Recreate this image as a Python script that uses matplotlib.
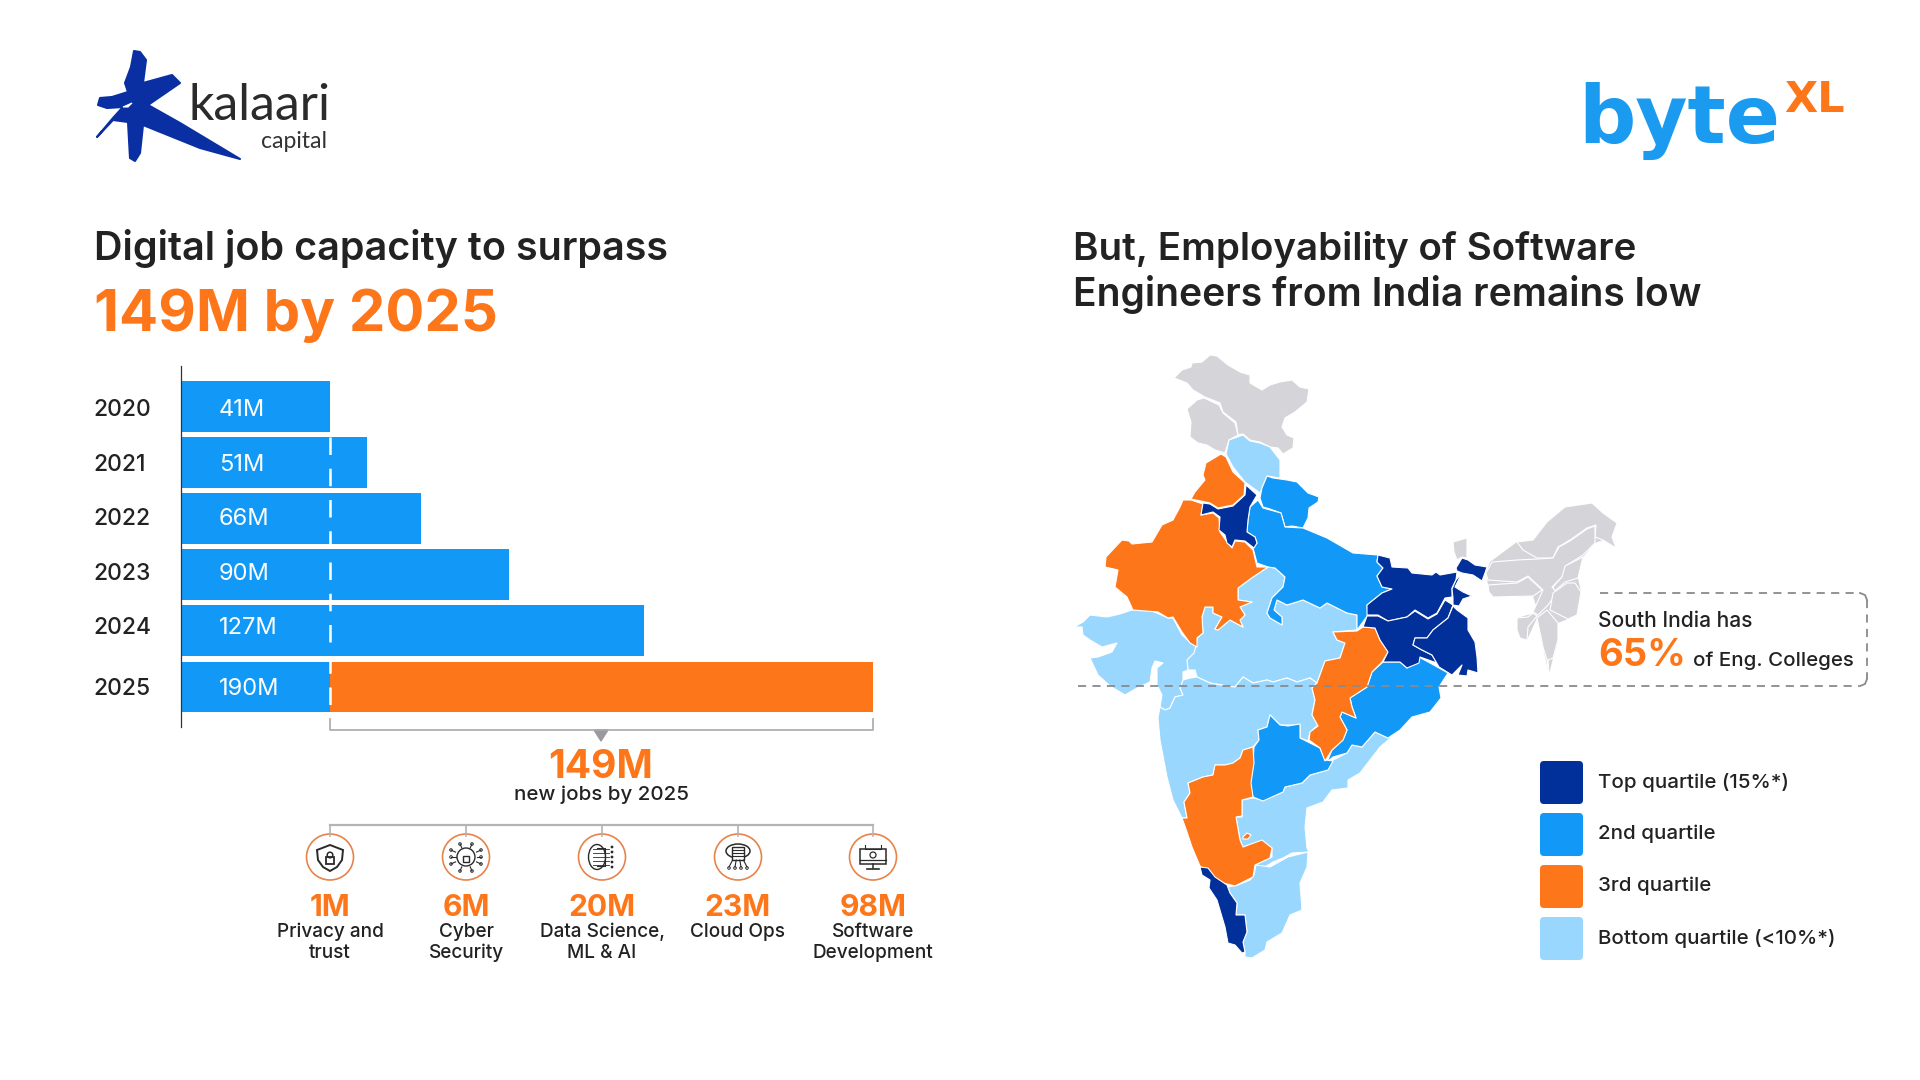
import matplotlib
matplotlib.use('Agg')
import matplotlib.pyplot as plt
from matplotlib.patches import Polygon, FancyBboxPatch, Ellipse, Rectangle, Circle

plt.rcParams['font.family'] = ['Inter', 'DejaVu Sans']

DARK = '#02309a'
BLUE = '#1299f7'
ORANGE = '#fd761a'
LIGHT = '#9ad7ff'
GRAY = '#d5d4d8'
INK = '#222222'

# bar data, millions of jobs
years = ['2020', '2021', '2022', '2023', '2024', '2025']
bar_labels = ['41M', '51M', '66M', '90M', '127M', '190M']
blue_part = [41, 51, 66, 90, 127, 41]
orange_part = [0, 0, 0, 0, 0, 149]
# the labels do not sit quite on the bar centres in the picture
label_rows = [0.05, 1.03, 1.99, 2.96, 3.93, 5.01]
year_rows = [0.03, 1.01, 1.97, 2.95, 3.91, 4.99]

# the 149M split
split_values = ['1M', '6M', '20M', '23M', '98M']
split_names = ['Privacy and\ntrust', 'Cyber\nSecurity', 'Data Science,\nML & AI', 'Cloud Ops', 'Software\nDevelopment']
split_x = [330, 466, 602, 738, 873]

legend_names = ['Top quartile (15%*)', '2nd quartile', '3rd quartile', 'Bottom quartile (<10%*)']
legend_colors = [DARK, BLUE, ORANGE, LIGHT]
legend_y = [761, 813, 865, 917]

# map outlines
ladakh = [(1174,378),(1182,370),(1191,367),(1192,363),(1202,362),(1210,355),(1217,356),(1228,365),(1240,372),(1250,375),(1250,383),(1262,390),(1270,385),(1280,382),(1292,380),(1300,387),(1309,389),(1307,402),(1295,412),(1285,418),(1282,427),(1287,435),(1294,438),(1293,448),(1283,454),(1278,448),(1270,447),(1260,442),(1250,440),(1243,434),(1238,435),(1236,422),(1223,412),(1220,403),(1205,397),(1193,390),(1187,383)]
kashmir = [(1187,409),(1197,400),(1204,398),(1219,405),(1223,413),(1235,423),(1238,435),(1229,440),(1225,453),(1215,450),(1207,445),(1198,443),(1190,437),(1191,422)]
himachal = [(1229,440),(1243,435),(1250,441),(1260,443),(1270,447),(1280,460),(1280,478),(1267,476),(1260,493),(1245,482),(1233,467),(1226,454)]
uttarakhand = [(1267,476),(1273,478),(1287,480),(1297,482),(1308,493),(1319,497),(1318,502),(1309,508),(1308,518),(1303,528),(1292,526),(1285,527),(1281,513),(1270,509),(1263,507),(1260,498),(1262,488)]
punjab = [(1221,454),(1226,457),(1233,472),(1245,483),(1244,495),(1233,505),(1218,508),(1210,503),(1191,499),(1195,492),(1205,480),(1203,475),(1206,463)]
haryana = [(1246,485),(1257,495),(1250,507),(1248,520),(1247,532),(1255,537),(1257,543),(1254,548),(1245,541),(1235,540),(1232,547),(1227,543),(1225,535),(1219,530),(1220,517),(1213,512),(1201,515),(1203,503),(1210,504),(1218,509),(1233,506),(1245,495)]
rajasthan = [(1183,500),(1191,500),(1203,504),(1201,515),(1213,513),(1219,518),(1220,532),(1227,542),(1232,548),(1235,541),(1245,542),(1253,550),(1257,567),(1268,567),(1253,577),(1238,588),(1238,600),(1252,602),(1240,607),(1245,615),(1240,620),(1243,627),(1230,620),(1218,630),(1215,629),(1222,617),(1213,613),(1213,607),(1205,607),(1202,617),(1203,633),(1197,638),(1197,647),(1190,643),(1182,632),(1173,617),(1168,618),(1158,612),(1133,610),(1127,597),(1115,587),(1118,570),(1105,567),(1106,557),(1122,540),(1129,541),(1132,544),(1152,542),(1162,525),(1173,520),(1180,507)]
uttar_pradesh = [(1258,500),(1263,508),(1281,513),(1285,527),(1303,528),(1327,538),(1353,553),(1378,555),(1377,562),(1383,568),(1377,576),(1382,587),(1392,589),(1382,593),(1367,605),(1368,615),(1357,630),(1357,615),(1347,613),(1327,603),(1320,608),(1303,600),(1287,605),(1277,600),(1274,610),(1282,617),(1282,625),(1270,618),(1267,613),(1272,598),(1283,587),(1285,577),(1275,568),(1268,567),(1257,563),(1253,548),(1257,543),(1255,537),(1247,532),(1248,520),(1250,507)]
madhya_pradesh = [(1268,567),(1275,568),(1285,577),(1283,587),(1272,598),(1267,613),(1270,618),(1282,625),(1282,617),(1274,610),(1277,600),(1287,605),(1303,600),(1320,608),(1327,603),(1347,613),(1357,615),(1357,630),(1333,632),(1337,640),(1345,643),(1340,658),(1325,661),(1317,683),(1310,678),(1297,682),(1287,678),(1273,682),(1267,680),(1253,683),(1243,677),(1235,687),(1227,686),(1210,683),(1197,677),(1195,670),(1188,670),(1187,660),(1194,648),(1196,645),(1197,638),(1203,633),(1202,617),(1205,607),(1213,607),(1213,613),(1222,617),(1215,629),(1218,630),(1230,620),(1243,627),(1240,620),(1245,615),(1240,607),(1252,602),(1238,600),(1238,588),(1253,577)]
gujarat = [(1074,627),(1083,622),(1090,615),(1107,617),(1120,614),(1132,610),(1150,610),(1168,618),(1173,618),(1182,635),(1190,642),(1196,646),(1194,653),(1187,660),(1188,670),(1183,672),(1183,680),(1190,678),(1180,688),(1183,695),(1175,697),(1170,708),(1165,710),(1160,707),(1162,695),(1157,685),(1157,668),(1163,663),(1155,661),(1152,668),(1150,682),(1137,688),(1125,695),(1110,686),(1098,675),(1090,658),(1098,657),(1112,652),(1117,643),(1102,647),(1090,640),(1083,635),(1082,627)]
maharashtra = [(1183,680),(1190,678),(1197,677),(1210,683),(1227,686),(1235,687),(1243,677),(1253,683),(1267,680),(1273,682),(1287,678),(1297,682),(1310,678),(1317,683),(1312,688),(1315,700),(1312,715),(1318,725),(1310,732),(1308,741),(1300,738),(1300,725),(1288,725),(1280,725),(1270,715),(1267,727),(1258,730),(1259,740),(1253,747),(1243,750),(1240,758),(1233,763),(1225,765),(1215,765),(1213,775),(1203,777),(1188,783),(1190,793),(1184,802),(1187,818),(1182,818),(1173,800),(1167,777),(1160,740),(1158,718),(1160,707),(1165,710),(1170,708),(1175,697),(1183,695),(1180,688)]
chhattisgarh = [(1333,632),(1357,631),(1363,627),(1375,628),(1380,640),(1388,652),(1382,662),(1372,672),(1367,687),(1350,698),(1352,707),(1356,718),(1342,712),(1340,717),(1347,730),(1343,740),(1332,750),(1325,761),(1320,748),(1309,740),(1310,732),(1318,726),(1312,715),(1315,700),(1312,688),(1317,683),(1325,661),(1340,658),(1345,643),(1337,640)]
odisha = [(1383,662),(1400,662),(1407,668),(1419,657),(1430,663),(1448,673),(1439,687),(1441,698),(1430,712),(1412,717),(1400,730),(1388,738),(1375,732),(1362,747),(1352,745),(1347,753),(1333,757),(1327,762),(1332,750),(1343,740),(1347,730),(1340,717),(1342,712),(1356,718),(1352,707),(1350,698),(1367,687),(1372,672)]
andhra = [(1399,731),(1380,747),(1360,773),(1348,780),(1348,788),(1332,790),(1323,802),(1307,808),(1305,827),(1307,848),(1309,852),(1292,853),(1283,858),(1273,862),(1265,867),(1255,865),(1272,857),(1272,848),(1262,841),(1243,847),(1240,840),(1236,817),(1242,817),(1242,800),(1253,798),(1263,800),(1283,792),(1285,787),(1302,783),(1310,775),(1327,770),(1333,760),(1347,753),(1352,745),(1362,747),(1375,732),(1388,738)]
telangana = [(1270,715),(1280,725),(1288,726),(1300,724),(1300,738),(1308,742),(1320,748),(1325,760),(1333,761),(1328,770),(1310,775),(1302,783),(1285,787),(1283,792),(1263,801),(1253,797),(1250,783),(1253,763),(1254,747),(1259,740),(1258,730),(1267,727)]
karnataka = [(1253,747),(1254,763),(1251,783),(1253,797),(1242,800),(1242,816),(1236,817),(1240,840),(1243,847),(1262,840),(1272,848),(1270,858),(1255,865),(1253,877),(1235,886),(1223,883),(1210,875),(1200,866),(1192,847),(1187,832),(1182,818),(1187,818),(1184,802),(1190,793),(1188,783),(1203,777),(1213,775),(1215,765),(1225,765),(1233,763),(1240,758),(1243,750)]
goa_spot = [(1243,837),(1247,833),(1251,835),(1248,839),(1243,839)]
kerala = [(1200,867),(1208,868),(1215,877),(1227,885),(1230,893),(1237,903),(1236,915),(1245,915),(1247,932),(1243,942),(1245,952),(1242,953),(1235,945),(1228,943),(1225,927),(1217,900),(1209,888),(1210,880),(1202,875)]
tamil_nadu = [(1228,887),(1238,885),(1250,880),(1254,875),(1256,865),(1270,867),(1288,857),(1308,852),(1307,867),(1300,883),(1302,910),(1290,915),(1282,933),(1267,942),(1265,950),(1252,958),(1245,957),(1245,952),(1243,942),(1247,932),(1245,915),(1236,915),(1237,903),(1230,893)]
bihar = [(1378,555),(1390,558),(1392,567),(1408,568),(1412,573),(1432,575),(1436,572),(1440,575),(1457,572),(1456,580),(1452,588),(1452,597),(1445,598),(1437,613),(1428,618),(1415,610),(1407,617),(1388,621),(1378,615),(1367,615),(1367,605),(1382,593),(1392,589),(1382,587),(1377,576),(1383,568),(1377,562)]
jharkhand = [(1378,616),(1388,621),(1407,617),(1415,611),(1428,619),(1437,614),(1445,600),(1453,605),(1448,618),(1433,630),(1427,638),(1415,638),(1413,645),(1422,650),(1432,655),(1437,663),(1420,657),(1419,663),(1407,668),(1400,662),(1383,662),(1388,652),(1380,640),(1375,628),(1363,627),(1367,616)]
bengal_south = [(1453,606),(1457,610),(1468,618),(1468,630),(1475,642),(1477,657),(1478,673),(1468,670),(1467,676),(1458,675),(1462,665),(1452,675),(1439,667),(1432,655),(1422,650),(1413,645),(1415,638),(1427,638),(1433,630),(1448,618)]
bengal_mid = [(1462,573),(1455,587),(1463,592),(1472,596),(1463,599),(1459,606),(1453,605),(1453,598),(1452,589),(1456,580)]
bengal_north = [(1456,568),(1462,558),(1468,560),(1475,565),(1487,567),(1485,573),(1482,581),(1473,575),(1462,573),(1457,571)]
sikkim = [(1453,542),(1467,538),(1467,558),(1462,557),(1457,560),(1454,552)]
arunachal = [(1517,542),(1533,540),(1547,522),(1565,507),(1592,503),(1603,513),(1617,523),(1612,537),(1616,548),(1603,540),(1595,537),(1596,525),(1587,528),(1570,540),(1558,547),(1553,558),(1537,558),(1523,550)]
assam = [(1492,562),(1517,560),(1537,559),(1553,558),(1559,547),(1570,541),(1587,529),(1595,526),(1595,543),(1583,555),(1567,565),(1562,577),(1552,587),(1557,592),(1548,605),(1538,615),(1533,612),(1543,590),(1528,576),(1517,582),(1488,580),(1486,573)]
meghalaya = [(1488,585),(1517,583),(1528,577),(1542,590),(1533,596),(1493,597),(1489,592)]
nagaland = [(1565,566),(1583,557),(1578,578),(1565,582),(1555,591),(1553,587),(1562,577)]
manipur = [(1553,593),(1567,583),(1575,583),(1581,592),(1577,615),(1568,619),(1550,610)]
mizoram = [(1537,618),(1547,610),(1558,623),(1558,640),(1553,658),(1548,660),(1549,675),(1547,660),(1543,647)]
tripura = [(1517,618),(1528,617),(1533,613),(1537,616),(1528,627),(1527,640),(1520,638),(1517,630)]
# gray block behind the north east, closes the slivers between the states
northeast_back = [(1490,562),(1517,542),(1533,540),(1547,522),(1565,507),(1592,503),(1603,513),(1617,523),(1612,537),(1616,548),(1603,540),(1595,543),(1583,557),(1578,578),(1581,592),(1577,615),(1568,619),(1558,623),(1558,640),(1553,658),(1549,675),(1543,647),(1537,618),(1527,640),(1520,638),(1517,630),(1517,618),(1538,612),(1533,596),(1493,597),(1488,585),(1486,573)]

gray_states = [ladakh, kashmir, sikkim, arunachal, assam, meghalaya, nagaland, manipur, mizoram, tripura]
top_states = [haryana, kerala, bihar, jharkhand, bengal_south, bengal_mid, bengal_north]
second_states = [uttarakhand, uttar_pradesh, odisha, telangana]
third_states = [punjab, rajasthan, chhattisgarh, karnataka, goa_spot]
bottom_states = [himachal, madhya_pradesh, gujarat, maharashtra, andhra, tamil_nadu]

# logo outline
kalaari_star = [(134,51),(140,52),(146,60),(143,83),(172,75),(180,83),(148,105),(180,123),(240,159),(200,148),(143,125),(140,153),(135,161),(130,158),(128,122),(113,120),(97,137),(113,118),(123,107),(107,108),(98,105),(100,98),(112,97),(128,92),(125,83),(131,67)]
kalaari_slit = [(123,107),(132,103),(128,107)]

fig = plt.figure(figsize=(19.2, 10.8), dpi=100)
page = fig.add_axes([0, 0, 1, 1])
page.set_xlim(0, 1920)
page.set_ylim(1080, 0)
page.axis('off')


def ptext(x, y, s, size, color=INK, weight='normal', ha='left', va='center', **kw):
    # size comes in pixels of the 1920 wide picture
    return page.text(x, y, s, fontsize=size * 0.72, color=color, fontweight=weight, ha=ha, va=va, **kw)


# bars
ax = fig.add_axes([181 / 1920, 1 - 727 / 1080, 692 / 1920, 361 / 1080])
ax.patch.set_alpha(0)
y_pos = list(range(len(years)))
ax.barh(y_pos, blue_part, height=0.9, color=BLUE)
ax.barh(y_pos, orange_part, left=blue_part, height=0.9, color=ORANGE)
ax.set_xlim(0, 190)
ax.set_ylim(5.717, -0.718)
ax.plot([41, 41], [0.55, 5.45], color='white', lw=1.8, dashes=(7, 5.5))
for row, lab in zip(label_rows, bar_labels):
    ax.text(10.4, row + 0.025, lab, color='white', fontsize=17, va='center', ha='left')
for s in ['top', 'right', 'bottom']:
    ax.spines[s].set_visible(False)
ax.spines['left'].set_color('#333333')
ax.spines['left'].set_linewidth(0.9)
ax.set_xticks([])
ax.set_yticks(year_rows)
ax.set_yticklabels(years, fontsize=16.5, color=INK, fontweight='medium', ha='left')
ax.tick_params(axis='y', length=0, pad=63)

# headings
ptext(94, 249, 'Digital job capacity to surpass', 39.5, weight='semibold')
ptext(94, 316, '149M by 2025', 58, color=ORANGE, weight='bold')
ptext(1073, 249, 'But, Employability of Software', 38.5, weight='semibold')
ptext(1073, 295, 'Engineers from India remains low', 39, weight='semibold')

# bracket under the new jobs
page.plot([330, 330, 873, 873], [719, 730, 730, 719], color='#a9a9ad', lw=1.2)
page.add_patch(Polygon([(594, 730), (608, 730), (601, 741)], color='#9a9a9e'))
ptext(601, 767, '149M', 39, color=ORANGE, weight='bold', ha='center')
ptext(601, 795, 'new jobs by 2025', 20.5, ha='center', weight='medium')

# tree with the split
page.plot([330, 873], [825, 825], color='#b4b4b8', lw=1.6)
for i, x in enumerate(split_x):
    page.plot([x, x], [825, 836], color='#b4b4b8', lw=1.2)
    page.add_patch(Ellipse((x, 857), 47, 46, fc='white', ec='#e8834a', lw=1.2))
    ptext(x, 908, split_values[i], 30, color=ORANGE, weight='bold', ha='center')
    ptext(x, 932, split_names[i].split('\n')[0], 19, ha='center', weight='medium')
    if '\n' in split_names[i]:
        ptext(x, 953, split_names[i].split('\n')[1], 19, ha='center', weight='medium')

# icons
ic = '#2a2a2a'
cx = split_x[0]
page.add_patch(Polygon([(cx, 845), (cx + 13, 850), (cx + 12, 860), (cx + 7, 867), (cx, 871), (cx - 7, 867), (cx - 12, 860), (cx - 13, 850)], fc='none', ec=ic, lw=1.4))
page.add_patch(Rectangle((cx - 4, 857), 8, 7, fc='none', ec=ic, lw=1.3))
page.add_patch(Circle((cx, 855), 2.8, fc='none', ec=ic, lw=1.1))
cx = split_x[1]
page.add_patch(Circle((cx, 857), 9, fc='none', ec=ic, lw=1))
page.add_patch(Rectangle((cx - 3, 856), 6, 6, fc='none', ec=ic, lw=1))
for dx, dy in [(-15, -7), (-15, 0), (-15, 7), (15, -7), (15, 0), (15, 7), (-6, -13), (6, -13), (-6, 14), (6, 14)]:
    page.plot([cx + dx * 0.7, cx + dx], [857 + dy * 0.7, 857 + dy], color=ic, lw=0.8)
    page.add_patch(Circle((cx + dx, 857 + dy), 1.3, fc='none', ec=ic, lw=0.7))
cx = split_x[2]
page.add_patch(Ellipse((cx - 5, 857), 17, 25, fc='none', ec=ic, lw=1))
page.plot([cx - 5, cx + 3, cx + 3, cx - 5], [848, 848, 866, 866], color=ic, lw=0.8)
for dy in [-10, -5, 0, 5, 10]:
    page.plot([cx - 9, cx + 7], [857 + dy * 0.8, 857 + dy * 0.8], color=ic, lw=0.6)
    page.add_patch(Circle((cx + 10, 857 + dy), 1.4, fc=ic, ec='none'))
cx = split_x[3]
page.add_patch(Ellipse((cx, 851), 24, 14, fc='none', ec=ic, lw=1.1))
page.add_patch(Rectangle((cx - 6, 847), 12, 13, fc='white', ec=ic, lw=1))
for dy in [3, 6, 9]:
    page.plot([cx - 5, cx + 5], [847 + dy, 847 + dy], color=ic, lw=0.8)
for dx in [-9, -3, 3, 9]:
    page.plot([cx + dx * 0.6, cx + dx], [860, 867], color=ic, lw=0.8)
    page.add_patch(Circle((cx + dx, 868), 1.3, fc='none', ec=ic, lw=0.7))
cx = split_x[4]
page.add_patch(Rectangle((cx - 13, 849), 26, 15, fc='none', ec=ic, lw=1.1))
page.plot([cx - 13, cx + 13], [860, 860], color=ic, lw=0.9)
page.plot([cx, cx], [864, 868], color=ic, lw=1.1)
page.plot([cx - 6, cx + 6], [869, 869], color=ic, lw=1.2)
page.add_patch(Circle((cx, 855), 3, fc='none', ec=ic, lw=0.9))
page.plot([cx - 8, cx - 8, cx + 8, cx + 8], [845, 849, 849, 845], color=ic, lw=0.8)

# map
page.add_patch(Polygon(northeast_back, closed=True, fc=GRAY, ec='none'))
for group, col in [(gray_states, GRAY), (bottom_states, LIGHT), (second_states, BLUE), (third_states, ORANGE), (top_states, DARK)]:
    for pts in group:
        page.add_patch(Polygon(pts, closed=True, fc=col, ec='white', lw=0.8, joinstyle='round'))

# south india box
dash = '#8a8a8e'
page.plot([1078, 1859], [686, 686], color=dash, lw=1.3, dashes=(4.5, 3.5))
page.plot([1600, 1860], [593, 593], color=dash, lw=1.3, dashes=(4.5, 3.5))
page.plot([1867, 1867], [600, 679], color=dash, lw=1.3, dashes=(4.5, 3.5))
page.plot([1860, 1865, 1867], [593, 595, 600], color=dash, lw=1.3)
page.plot([1867, 1865, 1860], [679, 684, 686], color=dash, lw=1.3)
ptext(1598, 621, 'South India has', 21, weight='medium')
ptext(1598, 656, '65%', 38, color=ORANGE, weight='bold')
ptext(1693, 661, 'of Eng. Colleges', 20.5, weight='medium')

# legend
for name, col, y in zip(legend_names, legend_colors, legend_y):
    page.add_patch(FancyBboxPatch((1543, y + 3), 37, 37, boxstyle='round,pad=3,rounding_size=4', fc=col, ec='none'))
    ptext(1598, y + 21, name, 20.5, weight='medium')

# logos
page.add_patch(Polygon(kalaari_star, closed=True, fc='#0a2fa3', ec='#0a2fa3', lw=1.5, joinstyle='round'))
page.add_patch(Polygon(kalaari_slit, closed=True, fc='white', ec='white', lw=0.8))
ptext(188, 120, 'kalaari', 50, color='#2b2b2b', family='Lato', va='baseline')
ptext(327, 148, 'capital', 23, color='#333333', family='Lato', ha='right', va='baseline')
ptext(1578, 143, 'byte', 80, color='#1a9bf0', weight='bold', family='DejaVu Sans', va='baseline')
ptext(1784, 112, 'XL', 43, color=ORANGE, weight='bold', family='DejaVu Sans', va='baseline')

fig.savefig('out.png', dpi=100, facecolor='white')
